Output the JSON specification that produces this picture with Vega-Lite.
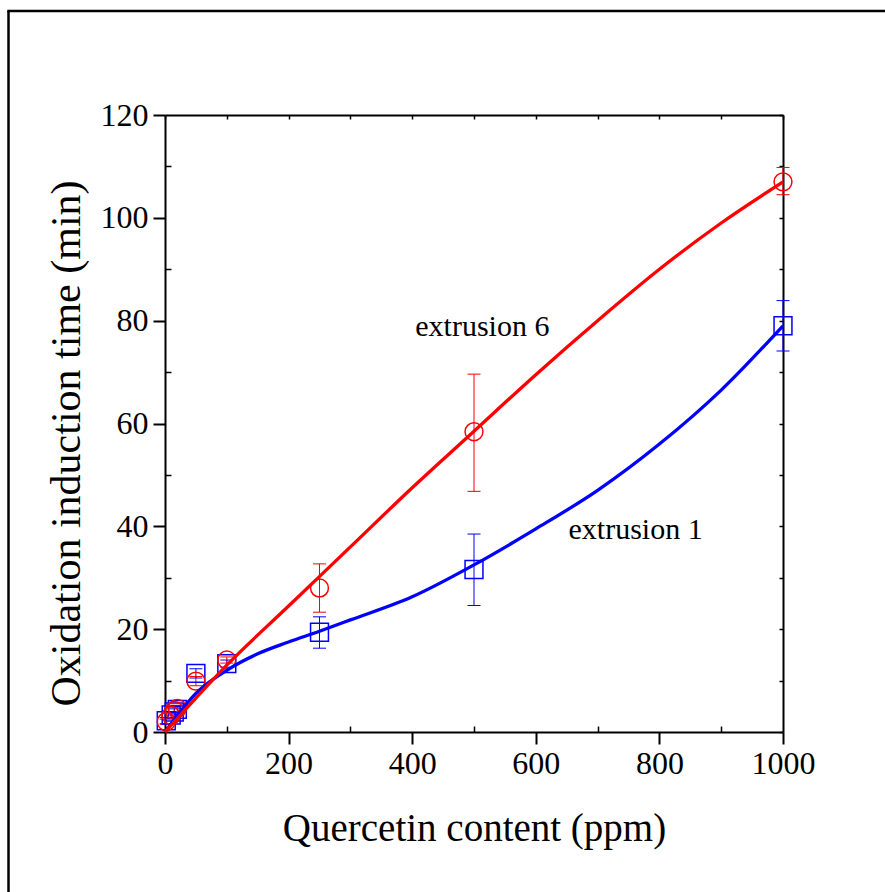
{
  "$schema": "https://vega.github.io/schema/vega-lite/v6.json",
  "autosize": "none",
  "width": 618,
  "height": 617,
  "padding": {"left": 165, "top": 115, "right": 102, "bottom": 160},
  "background": "white",
  "config": {
    "view": {"stroke": null},
    "font": "Liberation Serif",
    "axis": {
      "labelFont": "Liberation Serif",
      "titleFont": "Liberation Serif",
      "labelFontSize": 32,
      "titleFontSize": 39,
      "titleFontWeight": "normal",
      "labelColor": "black",
      "titleColor": "black",
      "domainColor": "black",
      "domainWidth": 2,
      "tickColor": "black",
      "tickWidth": 2,
      "grid": false
    }
  },
  "datasets": {
    "points": [
      {"series": "extrusion 1", "x": 2, "y": 2.2, "lo": 1.6, "hi": 2.8},
      {"series": "extrusion 1", "x": 10, "y": 3.3, "lo": 2.7, "hi": 3.9},
      {"series": "extrusion 1", "x": 15, "y": 3.9, "lo": 3.3, "hi": 4.5},
      {"series": "extrusion 1", "x": 20, "y": 4.4, "lo": 3.8, "hi": 5.0},
      {"series": "extrusion 1", "x": 50, "y": 11.4, "lo": 10.5, "hi": 12.3},
      {"series": "extrusion 1", "x": 100, "y": 13.3, "lo": 12.6, "hi": 14.0},
      {"series": "extrusion 1", "x": 250, "y": 19.4, "lo": 16.3, "hi": 22.4},
      {"series": "extrusion 1", "x": 500, "y": 31.6, "lo": 24.6, "hi": 38.5},
      {"series": "extrusion 1", "x": 1000, "y": 79.0, "lo": 74.1, "hi": 83.9},
      {"series": "extrusion 6", "x": 2, "y": 2.0, "lo": 1.5, "hi": 2.5},
      {"series": "extrusion 6", "x": 10, "y": 3.2, "lo": 2.6, "hi": 3.8},
      {"series": "extrusion 6", "x": 15, "y": 4.2, "lo": 3.6, "hi": 4.8},
      {"series": "extrusion 6", "x": 20, "y": 4.6, "lo": 4.0, "hi": 5.2},
      {"series": "extrusion 6", "x": 50, "y": 9.9, "lo": 9.0, "hi": 10.8},
      {"series": "extrusion 6", "x": 100, "y": 14.0, "lo": 13.4, "hi": 14.6},
      {"series": "extrusion 6", "x": 250, "y": 28.0, "lo": 23.3, "hi": 32.7},
      {"series": "extrusion 6", "x": 500, "y": 58.4, "lo": 46.8, "hi": 69.6},
      {"series": "extrusion 6", "x": 1000, "y": 107.0, "lo": 104.5, "hi": 109.8}
    ],
    "fits": [
      {"series": "extrusion 1", "x": 0, "y": 0},
      {"series": "extrusion 1", "x": 25, "y": 4},
      {"series": "extrusion 1", "x": 50, "y": 7.5},
      {"series": "extrusion 1", "x": 100, "y": 12},
      {"series": "extrusion 1", "x": 150, "y": 15.2},
      {"series": "extrusion 1", "x": 200, "y": 17.5},
      {"series": "extrusion 1", "x": 250, "y": 19.6},
      {"series": "extrusion 1", "x": 300, "y": 21.8},
      {"series": "extrusion 1", "x": 400, "y": 26.3},
      {"series": "extrusion 1", "x": 500, "y": 32.5},
      {"series": "extrusion 1", "x": 600, "y": 39.5},
      {"series": "extrusion 1", "x": 700, "y": 47},
      {"series": "extrusion 1", "x": 800, "y": 56},
      {"series": "extrusion 1", "x": 900, "y": 66.5},
      {"series": "extrusion 1", "x": 1000, "y": 79},
      {"series": "extrusion 6", "x": 0, "y": 0},
      {"series": "extrusion 6", "x": 50, "y": 6.6},
      {"series": "extrusion 6", "x": 100, "y": 13},
      {"series": "extrusion 6", "x": 200, "y": 24.5},
      {"series": "extrusion 6", "x": 300, "y": 36},
      {"series": "extrusion 6", "x": 400, "y": 47.5},
      {"series": "extrusion 6", "x": 500, "y": 58.5},
      {"series": "extrusion 6", "x": 600, "y": 69.5},
      {"series": "extrusion 6", "x": 700, "y": 80},
      {"series": "extrusion 6", "x": 800, "y": 90},
      {"series": "extrusion 6", "x": 900, "y": 99},
      {"series": "extrusion 6", "x": 1000, "y": 107}
    ],
    "labels": [
      {"label": "extrusion 6", "x": 405, "y": 78.8},
      {"label": "extrusion 1", "x": 653, "y": 39.3}
    ]
  },
  "layer": [
    {
      "data": {"name": "points"},
      "mark": {"type": "rule", "strokeWidth": 1},
      "encoding": {
        "x": {"field": "x", "type": "quantitative", "scale": {"domain": [0, 1000], "nice": false, "zero": false},
              "axis": {"orient": "bottom", "values": [0, 200, 400, 600, 800, 1000], "format": "d", "tickSize": 12, "labelPadding": 4, "title": "Quercetin content (ppm)", "titlePadding": 30, "labelFlush": false}},
        "y": {"field": "lo", "type": "quantitative", "scale": {"domain": [0, 120], "nice": false, "zero": false},
              "axis": {"orient": "left", "values": [0, 20, 40, 60, 80, 100, 120], "format": "d", "tickSize": 12, "labelPadding": 5, "title": "Oxidation induction time (min)", "titleFontSize": 42, "titlePadding": 12, "titleY": 328, "labelFlush": false}},
        "y2": {"field": "hi"},
        "color": {"field": "series", "type": "nominal", "scale": {"domain": ["extrusion 1", "extrusion 6"], "range": ["#0000ff", "#ff0000"]}, "legend": null}
      }
    },
    {
      "data": {"name": "points"},
      "mark": {"type": "point", "shape": "M-1,0H1", "size": 169, "strokeWidth": 1, "filled": false, "opacity": 1},
      "encoding": {
        "x": {"field": "x", "type": "quantitative", "scale": {"domain": [0, 1000], "nice": false, "zero": false},
              "axis": {"orient": "top", "values": [0, 100, 200, 300, 400, 500, 600, 700, 800, 900, 1000], "tickSize": -4, "tickWidth": 1.5, "labels": false, "title": null}},
        "y": {"field": "hi", "type": "quantitative", "scale": {"domain": [0, 120], "nice": false, "zero": false},
              "axis": {"orient": "right", "values": [0, 10, 20, 30, 40, 50, 60, 70, 80, 90, 100, 110, 120], "tickSize": -4, "tickWidth": 1.5, "labels": false, "title": null}},
        "color": {"field": "series", "type": "nominal", "legend": null}
      }
    },
    {
      "data": {"name": "points"},
      "mark": {"type": "point", "shape": "M-1,0H1", "size": 169, "strokeWidth": 1, "filled": false, "opacity": 1},
      "encoding": {
        "x": {"field": "x", "type": "quantitative", "scale": {"domain": [0, 1000], "nice": false, "zero": false},
              "axis": {"orient": "bottom", "values": [100, 300, 500, 700, 900], "tickSize": -6, "tickWidth": 1.5, "labels": false, "title": null, "domain": false}},
        "y": {"field": "lo", "type": "quantitative", "scale": {"domain": [0, 120], "nice": false, "zero": false},
              "axis": {"orient": "left", "values": [10, 30, 50, 70, 90, 110], "tickSize": -6, "tickWidth": 1.5, "labels": false, "title": null, "domain": false}},
        "color": {"field": "series", "type": "nominal", "legend": null}
      }
    },
    {
      "data": {"name": "points"},
      "mark": {"type": "point", "size": 320, "strokeWidth": 1.5, "filled": false, "opacity": 1},
      "encoding": {
        "x": {"field": "x", "type": "quantitative", "scale": {"domain": [0, 1000], "nice": false, "zero": false}, "axis": null},
        "y": {"field": "y", "type": "quantitative", "scale": {"domain": [0, 120], "nice": false, "zero": false}, "axis": null},
        "color": {"field": "series", "type": "nominal", "legend": null},
        "shape": {"field": "series", "type": "nominal", "scale": {"domain": ["extrusion 1", "extrusion 6"], "range": ["square", "circle"]}, "legend": null}
      }
    },
    {
      "data": {"name": "fits"},
      "mark": {"type": "line", "interpolate": "monotone", "strokeWidth": 3.3},
      "encoding": {
        "x": {"field": "x", "type": "quantitative", "scale": {"domain": [0, 1000], "nice": false, "zero": false}, "axis": null},
        "y": {"field": "y", "type": "quantitative", "scale": {"domain": [0, 120], "nice": false, "zero": false}, "axis": null},
        "color": {"field": "series", "type": "nominal", "legend": null}
      }
    },
    {
      "data": {"name": "labels"},
      "mark": {"type": "text", "font": "Liberation Serif", "fontSize": 30, "align": "left", "baseline": "middle", "color": "black"},
      "encoding": {
        "x": {"field": "x", "type": "quantitative", "scale": {"domain": [0, 1000], "nice": false, "zero": false}, "axis": null},
        "y": {"field": "y", "type": "quantitative", "scale": {"domain": [0, 120], "nice": false, "zero": false}, "axis": null},
        "text": {"field": "label"}
      }
    },
    {
      "data": {"values": [{}]},
      "mark": {"type": "rule", "color": "black", "strokeWidth": 2.5},
      "encoding": {"x": {"value": -156.5}, "y": {"value": -104}, "y2": {"value": 800}}
    },
    {
      "data": {"values": [{}]},
      "mark": {"type": "rule", "color": "black", "strokeWidth": 2.5},
      "encoding": {"x": {"value": -157.7}, "x2": {"value": 800}, "y": {"value": -104}}
    }
  ],
  "resolve": {"axis": {"x": "independent", "y": "independent"}}
}
